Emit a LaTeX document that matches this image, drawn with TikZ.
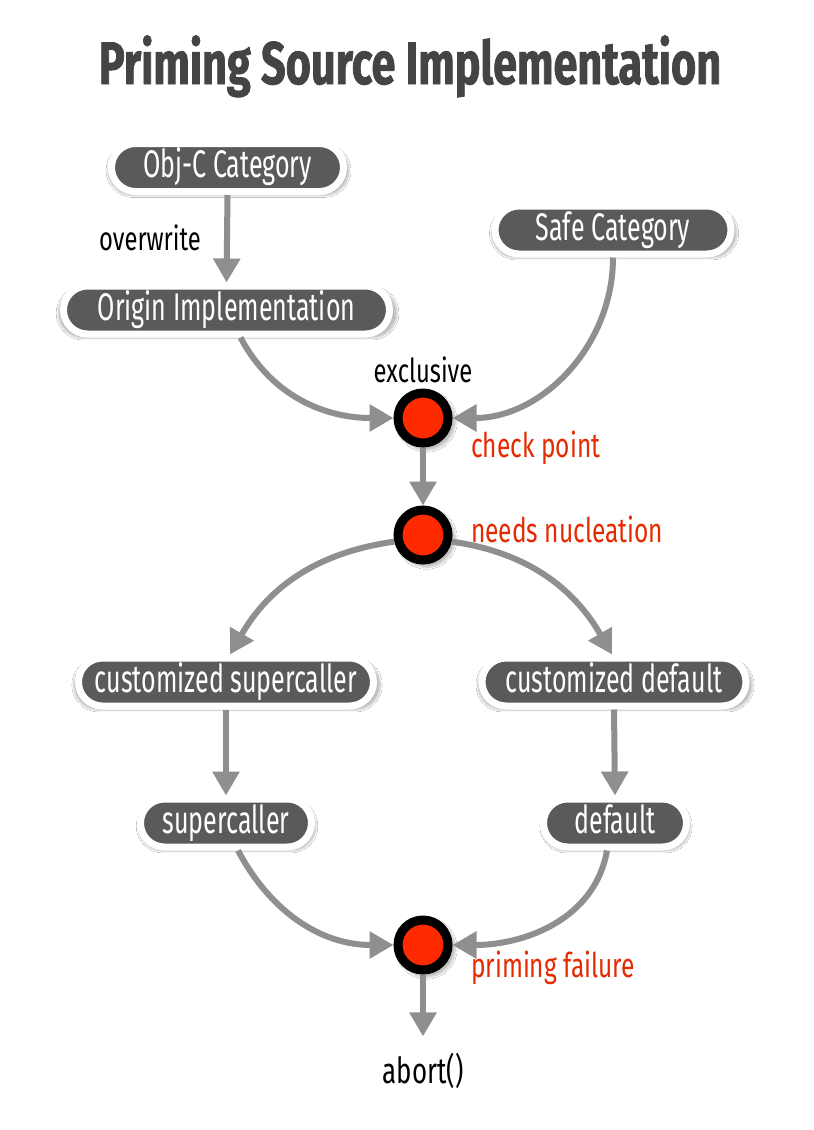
\documentclass[tikz,border=0pt]{standalone}
\usepackage{fontspec}
\usetikzlibrary{shapes.misc,arrows.meta,shadows.blur}
\newfontfamily\labfont[FakeStretch=0.72]{Fira Sans}
\newfontfamily\pillfont[FakeStretch=0.65]{Fira Sans}
\newfontfamily\titfont[FakeStretch=0.72,FakeBold=1.2]{Fira Sans}
\definecolor{pill}{HTML}{5A5A5A}
\definecolor{arr}{HTML}{8F8F8F}
\definecolor{dotred}{HTML}{FF2A00}
\definecolor{labred}{HTML}{E62A00}
\definecolor{titgray}{HTML}{444444}
\begin{document}
\begin{tikzpicture}[x=1pt,y=-1pt,
  pillbox/.style={rounded rectangle, fill=pill, draw=white, line width=7pt,
    minimum height=48pt, text=white, inner xsep=0pt, inner ysep=0pt,
    font=\pillfont\fontsize{38.5}{42}\selectfont, text height=27pt, text depth=7pt,
    blur shadow={shadow xshift=1pt, shadow yshift=-3pt, shadow blur steps=8,
      shadow scale=1.04, shadow opacity=25}},
  dot/.style={circle, fill=dotred, draw=black, line width=9pt, minimum size=50pt,
    inner sep=0pt,
    blur shadow={shadow xshift=3pt, shadow yshift=-3pt, shadow blur steps=8,
      shadow scale=1.15, shadow opacity=25}},
  flow/.style={draw=arr, line width=6pt, -{Triangle[length=24pt,width=26pt]}},
  blk/.style={font=\labfont\fontsize{33}{36}\selectfont, text=black, inner sep=0pt},
  redlbl/.style={font=\labfont\fontsize{34}{38}\selectfont, text=labred, inner sep=0pt, anchor=base west},
]
\useasboundingbox (0,0) rectangle (814,1130);
\fill[white] (0,0) rectangle (814,1130);

\node[font=\titfont\bfseries\fontsize{60}{66}\selectfont, text=titgray, anchor=base, inner sep=0pt] (title) at (410,84) {Priming Source Implementation};

\node[pillbox, minimum width=232pt] (objc) at (227.5,167.5) {Obj-C Category};
\node[pillbox, minimum width=236pt] (safe) at (613,230) {Safe Category};
\node[pillbox, minimum width=326pt] (orig) at (226.5,310) {Origin Implementation};
\node[pillbox, minimum width=295pt] (cs) at (226,682) {customized supercaller};
\node[pillbox, minimum width=264pt] (cd) at (614,682) {customized default};
\node[pillbox, minimum width=171pt] (sc) at (226,823) {supercaller};
\node[pillbox, minimum width=143pt] (df) at (615,823) {default};

\node[dot] (chk) at (423,418) {};
\node[dot] (nuc) at (423,535) {};
\node[dot] (pf) at (423,945) {};

\node[blk, anchor=base west] (ow) at (99,250) {overwrite};
\node[blk, anchor=base] (ex) at (423,382) {exclusive};
\node[redlbl] (chkl) at (471,457) {check point};
\node[redlbl] (nucl) at (471,542) {needs nucleation};
\node[redlbl] (pfl) at (471,977) {priming failure};
\node[blk, anchor=base, font=\labfont\fontsize{36}{40}\selectfont] (abort) at (423,1083) {abort()};

\draw[flow] (objc.south) -- (orig.north);
\draw[flow] ([xshift=14pt]orig.south) to[out=-62, in=180] (chk.west);
\draw[flow] (safe.south) to[out=-90, in=0] (chk.east);
\draw[flow] (chk.south) -- (nuc.north);
\draw[flow] (nuc.193) to[out=188, in=60] ([xshift=4pt]cs.north);
\draw[flow] (nuc.-13) to[out=-8, in=120] ([xshift=-2pt]cd.north);
\draw[flow] (cs.south) -- (sc.north);
\draw[flow] (cd.south) -- (df.north);
\draw[flow] ([xshift=12pt]sc.south) to[out=-62, in=180] (pf.west);
\draw[flow] ([xshift=-8pt]df.south) to[out=-100, in=0] (pf.east);
\draw[flow] (pf.south) -- ([yshift=16pt]abort.north);
\end{tikzpicture}
\end{document}
